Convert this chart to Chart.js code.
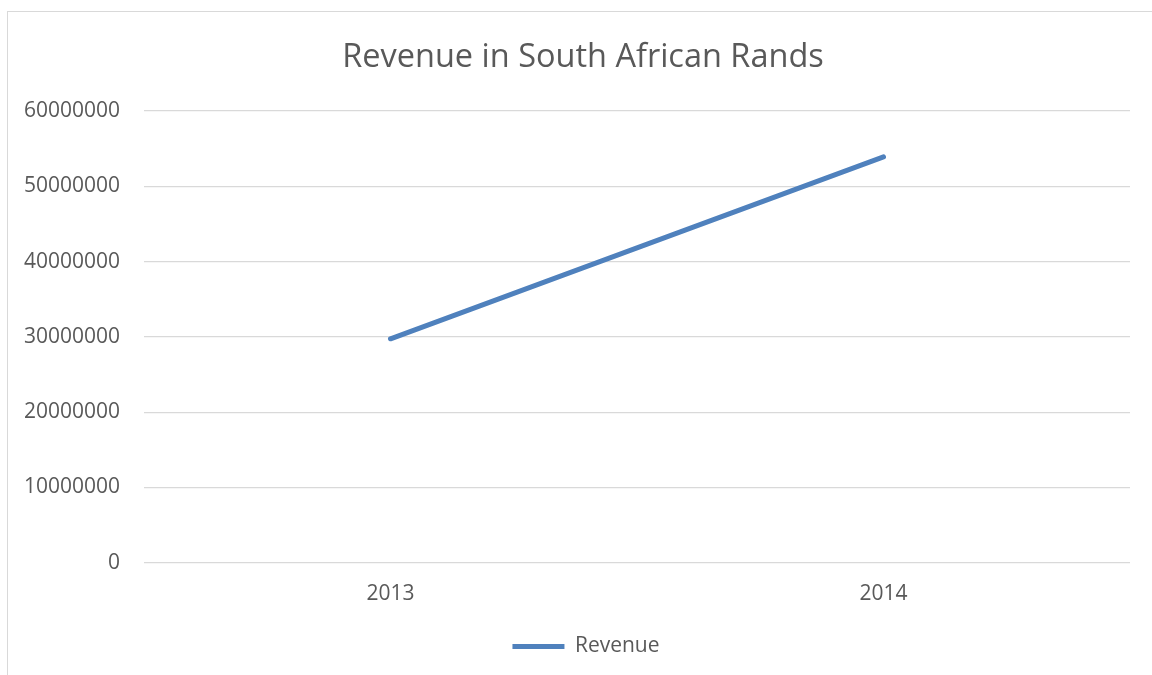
<!DOCTYPE html>
<html>
<head>
<meta charset="utf-8">
<title>Revenue in South African Rands</title>
<script src="https://cdn.jsdelivr.net/npm/chart.js@4/dist/chart.umd.min.js"></script>
<style>
  html, body { margin: 0; padding: 0; background: #ffffff; }
  #frame {
    position: absolute; left: 7px; top: 11px;
    width: 1160px; height: 680px;
    border: 1px solid #d9d9d9;
  }
  #wrap { position: absolute; left: 0; top: 0; width: 1152px; height: 675px; }
</style>
</head>
<body>
<div id="frame"></div>
<div id="wrap"><canvas id="revenue-chart"></canvas></div>
<script>
/* ---------- DATA ---------- */
const years    = ['2013', '2014'];
const revenue  = [29750000, 53900000];
const yTicks   = [0, 10000000, 20000000, 30000000, 40000000, 50000000, 60000000];

const TEXT = '#595959';
const GRID = '#d9d9d9';
const FONT = "'Open Sans', 'Liberation Sans', sans-serif";

/* nudge title and legend right so they sit centred under the whole frame */
const centreBlocks = {
  id: 'centreBlocks',
  afterLayout(chart) {
    if (chart.legend) chart.legend.left += 42;
    if (chart.titleBlock) chart.titleBlock.left += 36;
  }
};

/* ---------- CHART ---------- */
const ctx = document.getElementById('revenue-chart');

new Chart(ctx, {
  type: 'line',
  data: {
    labels: years,
    datasets: [{
      label: 'Revenue',
      data: revenue,
      borderColor: '#4f81bd',
      backgroundColor: '#4f81bd',
      borderWidth: 5,
      borderCapStyle: 'round',
      borderJoinStyle: 'round',
      pointRadius: 0,
      pointHoverRadius: 0,
      tension: 0,
      fill: false
    }]
  },
  plugins: [centreBlocks],
  options: {
    responsive: true,
    maintainAspectRatio: false,
    animation: false,
    layout: { padding: { left: 0, right: 22, top: 0, bottom: 8 } },
    plugins: {
      title: {
        display: true,
        text: 'Revenue in South African Rands',
        color: TEXT,
        font: { family: FONT, size: 32.5, weight: 'normal' },
        padding: { top: 38, bottom: 34 }
      },
      legend: {
        position: 'bottom',
        labels: {
          color: TEXT,
          font: { family: FONT, size: 21 },
          usePointStyle: true,
          pointStyle: 'line',
          pointStyleWidth: 52,
          padding: 10
        }
      },
      tooltip: { enabled: false }
    },
    scales: {
      x: {
        offset: true,
        grid: { display: false, drawTicks: false },
        border: { display: false },
        ticks: { color: TEXT, font: { family: FONT, size: 21 }, padding: 19 }
      },
      y: {
        min: yTicks[0],
        max: yTicks[yTicks.length - 1],
        afterBuildTicks: scale => { scale.ticks = yTicks.map(v => ({ value: v })); },
        afterFit: scale => { scale.width = 144; },
        grid: { color: GRID, lineWidth: 1.3, drawTicks: false },
        border: { display: false },
        ticks: {
          color: TEXT,
          font: { family: FONT, size: 21 },
          padding: 24,
          callback: v => String(v)
        }
      }
    }
  }
});
</script>
</body>
</html>
